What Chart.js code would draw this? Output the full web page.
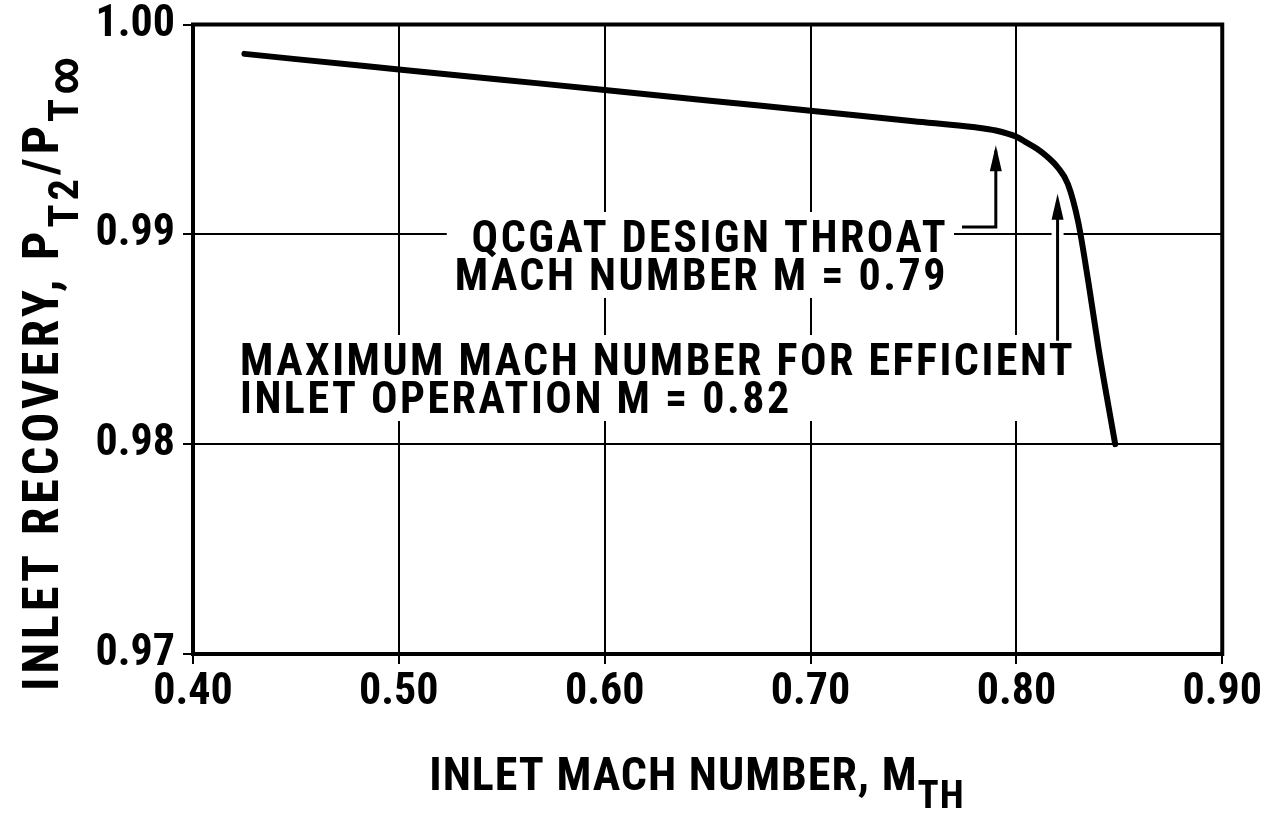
<!DOCTYPE html>
<html>
<head>
<meta charset="utf-8">
<script src="https://cdn.jsdelivr.net/npm/chart.js@4"></script>
<style>
  html, body { margin: 0; padding: 0; background: #fff; }
  #wrap { width: 1274px; height: 813px; }
</style>
</head>
<body>
<div id="wrap"><canvas id="recoveryChart" width="1274" height="813"></canvas></div>
<script>
// Inlet recovery vs throat Mach number
const machValues = [0.425, 0.45, 0.50, 0.55, 0.60, 0.65, 0.70, 0.75, 0.78, 0.79, 0.80, 0.805, 0.81, 0.815, 0.82, 0.825, 0.83, 0.835, 0.84, 0.848];
const recoveryValues = [0.9986, 0.99835, 0.99786, 0.99737, 0.99688, 0.99638, 0.99589, 0.99539, 0.9951, 0.99495, 0.99465, 0.99437, 0.99408, 0.9937, 0.9932, 0.9924, 0.9906, 0.9877, 0.9845, 0.9800];
const xTicks = [0.40, 0.50, 0.60, 0.70, 0.80, 0.90];
const yTicks = [0.97, 0.98, 0.99, 1.00];
const designMach = 0.79;
const maxMach = 0.82;

const FONT = '"Roboto Condensed", "Open Sans Condensed", sans-serif';

// draws text pieces centred on x; pieces with sub:true are lowered
function drawPieces(ctx, pieces, x, y, size, spacing) {
    ctx.letterSpacing = spacing + 'px';
    let total = 0;
    pieces.forEach(p => {
        ctx.font = 'bold ' + (p.sub ? size * 0.85 : size) + 'px ' + FONT;
        p.w = ctx.measureText(p.t).width;
        total += p.w;
    });
    let cx = x - total / 2;
    pieces.forEach(p => {
        ctx.font = 'bold ' + (p.sub ? size * 0.85 : size) + 'px ' + FONT;
        ctx.fillText(p.t, cx, p.sub ? y + size * 0.4 : y);
        cx += p.w;
    });
    ctx.letterSpacing = '0px';
}

const notes = {
    id: 'notes',
    beforeDatasetsDraw(chart) {
        const ctx = chart.ctx;
        const xs = chart.scales.x, ys = chart.scales.y;
        ctx.save();
        ctx.fillStyle = '#000';
        ctx.strokeStyle = '#000';
        ctx.textBaseline = 'alphabetic';
        ctx.textAlign = 'left';

        // text blocks with white backing over the grid
        ctx.font = 'bold 44px ' + FONT;
        ctx.letterSpacing = '2.5px';
        const block = (lines, x, y0, align) => {
            const lh = 38;
            const widths = lines.map(l => ctx.measureText(l).width);
            const wmax = Math.max(...widths);
            const left = align === 'right' ? x - wmax : x;
            ctx.fillStyle = '#fff';
            ctx.fillRect(left - 8, y0 - 40, wmax + 14, lh * lines.length + 10);
            ctx.fillStyle = '#000';
            lines.forEach((l, i) => {
                const lx = align === 'right' ? x - widths[i] : x;
                ctx.fillText(l, lx, y0 + i * lh);
            });
            return { left, right: left + wmax };
        };
        const b1 = block(['QCGAT DESIGN THROAT', 'MACH NUMBER M = 0.79'], 948, 252, 'right');
        block(['MAXIMUM MACH NUMBER FOR EFFICIENT', 'INLET OPERATION M = 0.82'], 240, 375, 'left');
        ctx.letterSpacing = '0px';

        // arrows
        const arrowUp = (x, yTip) => {
            ctx.beginPath();
            ctx.moveTo(x, yTip);
            ctx.lineTo(x - 6, yTip + 26);
            ctx.lineTo(x + 6, yTip + 26);
            ctx.closePath();
            ctx.fill();
        };
        ctx.lineWidth = 3;
        const x1 = xs.getPixelForValue(designMach);
        const yLead = ys.getPixelForValue(0.99035);
        ctx.beginPath();
        ctx.moveTo(b1.right + 14, yLead);
        ctx.lineTo(x1, yLead);
        ctx.lineTo(x1, ys.getPixelForValue(0.9940));
        ctx.stroke();
        arrowUp(x1, ys.getPixelForValue(0.99425));

        const x2 = xs.getPixelForValue(maxMach);
        ctx.fillStyle = '#fff';
        ctx.fillRect(x2 - 6, ys.getPixelForValue(0.99) - 4, 12, 8);
        ctx.fillStyle = '#000';
        ctx.beginPath();
        ctx.moveTo(x2, ys.getPixelForValue(0.98493));
        ctx.lineTo(x2, ys.getPixelForValue(0.9916));
        ctx.stroke();
        arrowUp(x2, ys.getPixelForValue(0.99194));
        ctx.restore();
    },
    afterDraw(chart) {
        const ctx = chart.ctx;
        const a = chart.chartArea;
        ctx.save();
        ctx.fillStyle = '#000';
        ctx.strokeStyle = '#000';
        ctx.textBaseline = 'alphabetic';

        // heavy frame
        ctx.lineWidth = 4;
        ctx.strokeRect(a.left, a.top, a.right - a.left, a.bottom - a.top);

        // axis titles
        drawPieces(ctx, [{ t: 'INLET MACH NUMBER, M' }, { t: 'TH', sub: true }], 697, 790, 46, 1);
        ctx.translate(58, 372);
        ctx.rotate(-Math.PI / 2);
        drawPieces(ctx, [{ t: 'INLET RECOVERY, P' }, { t: 'T2', sub: true }, { t: '/P' }, { t: 'T\u221E', sub: true }], 0, 0, 50, 4);
        ctx.restore();
    }
};

window.addEventListener('load', () => {
    const ctx = document.getElementById('recoveryChart').getContext('2d');
    new Chart(ctx, {
        type: 'line',
        data: {
            datasets: [{
                data: machValues.map((m, i) => ({ x: m, y: recoveryValues[i] })),
                borderColor: '#000',
                borderWidth: 6,
                pointRadius: 0,
                fill: false,
                cubicInterpolationMode: 'monotone',
                borderCapStyle: 'round'
            }]
        },
        options: {
            responsive: false,
            animation: false,
            layout: { padding: { top: 0, right: 40 } },
            plugins: {
                legend: { display: false },
                tooltip: { enabled: false }
            },
            scales: {
                x: {
                    type: 'linear',
                    min: 0.4,
                    max: 0.9,
                    afterBuildTicks: s => { s.ticks = xTicks.map(v => ({ value: v })); },
                    afterFit: s => { s.height = 159; },
                    grid: { color: '#000', lineWidth: 2, tickLength: 10 },
                    border: { color: '#000', width: 4 },
                    ticks: {
                        color: '#000',
                        padding: 12,
                        font: { family: FONT, size: 44, weight: 'bold', lineHeight: 0.75 },
                        callback: v => v.toFixed(2)
                    }
                },
                y: {
                    min: 0.97,
                    max: 1.0,
                    afterBuildTicks: s => { s.ticks = yTicks.map(v => ({ value: v })); },
                    afterFit: s => { s.width = 193; },
                    grid: { color: '#000', lineWidth: 2, tickLength: 10 },
                    border: { color: '#000', width: 4 },
                    ticks: {
                        color: '#000',
                        padding: 8,
                        font: { family: FONT, size: 44, weight: 'bold', lineHeight: 0.75 },
                        callback: v => v.toFixed(2)
                    }
                }
            }
        },
        plugins: [notes]
    });
});
</script>
</body>
</html>
